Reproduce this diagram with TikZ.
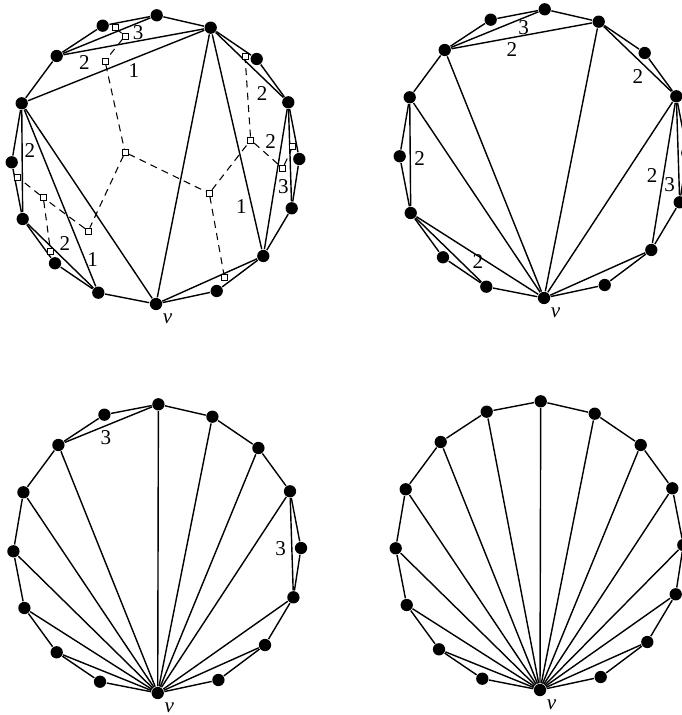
\documentclass[tikz,border=0pt]{standalone}
\usepackage{fontspec}
\setmainfont{Liberation Serif}
\begin{document}
\begin{tikzpicture}[x=0.02cm, y=-0.02cm, line width=0.8pt,
  dot/.style={circle, fill, inner sep=0pt, minimum size=7pt},
  box/.style={rectangle, draw, fill=white, line width=0.5pt, inner sep=0pt, minimum size=3.4pt},
  tree/.style={dash pattern=on 4pt off 3pt, line width=0.6pt},
  lab/.style={inner sep=1pt, font=\fontsize{12}{14}\selectfont}]
  \useasboundingbox (0,0) rectangle (681,715);

  % the four 16-gons
  \foreach \p/\dx/\dy in {a/0/0, b/388/-6, c/1.7/389, d/384/386}
    \foreach \i/\x/\y in {1/156/304, 2/216.7/291, 3/263.3/256, 4/291.7/208.3,
        5/299.3/159, 6/288.3/102.3, 7/256.7/59, 8/210.7/27.7, 9/156.7/15.3,
        10/102.7/25.7, 11/56.7/56, 12/21.7/103.3, 13/11.7/162.3, 14/22.7/219,
        15/55/263.3, 16/98.3/292.7}
      \node[dot] (\p\i) at (\x+\dx, \y+\dy) {};
  \foreach \p in {a,b,c,d}{
    \foreach \i in {1,...,16}{
      \pgfmathtruncatemacro{\j}{mod(\i,16)+1}
      \draw (\p\i) -- (\p\j);
    }
    \node[lab] (v\p) at ([shift={(11.5,14.5)}]\p1) {\textit{v}};
  }

  % top left
  \draw (a11) -- node[lab, below, pos=0.86] (la1) {3} (a9);
  \draw (a11) -- node[lab, below=1.5pt, pos=0.15] (la2) {2} (a8);
  \draw (a12) -- node[lab, below=1.5pt, pos=0.6] (la3) {1} (a8);
  \draw (a12) -- node[lab, right, pos=0.4] (la4) {2} (a14);
  \draw (a12) -- node[lab, right, pos=0.85] (la5) {1} (a16);
  \draw (a14) -- node[lab, above right, pos=0.45] (la6) {2} (a16);
  \draw (a12) -- (a1);
  \draw (a8) -- (a1);
  \draw (a8) -- node[lab, left=1.5pt, pos=0.8] (la7) {1} (a3);
  \draw (a1) -- (a3);
  \draw (a8) -- node[lab, below left, pos=0.8] (la8) {2} (a6);
  \draw (a6) -- node[lab, left=2pt, pos=0.23] (la9) {2} (a3);
  \draw (a6) -- node[lab, left, pos=0.84] (la10) {3} (a4);

  % dual tree
  \foreach \n/\x/\y in {1/115/27.7, 2/125/36, 3/105/61, 4/125/152.3, 5/88.3/231,
      6/43.3/197.7, 7/17.3/177, 8/50.5/251, 9/209.3/193.3, 10/224.5/277.7,
      11/250.7/140, 12/245/56, 13/282.7/168.3, 14/292.7/146.7}
    \node[box] (t\n) at (\x,\y) {};
  \foreach \m/\n in {1/2, 2/3, 3/4, 4/5, 5/6, 6/7, 6/8, 4/9, 9/10, 9/11,
      11/12, 11/13, 13/14}
    \draw[tree] (t\m) -- (t\n);

  % top right
  \draw (b11) -- node[lab, below, pos=0.83] (lb1) {3} (b9);
  \draw (b11) -- node[lab, below=1.5pt, pos=0.43] (lb2) {2} (b8);
  \draw (b11) -- (b1);
  \draw (b12) -- node[lab, right=1pt, pos=0.53] (lb3) {2} (b14);
  \draw (b12) -- (b1);
  \draw (b14) -- node[lab, above right, pos=0.83] (lb4) {2} (b16);
  \draw (b14) -- (b1);
  \draw (b8) -- (b1);
  \draw (b8) -- node[lab, below left, pos=0.62] (lb5) {2} (b6);
  \draw (b6) -- (b1);
  \draw (b6) -- node[lab, left=2pt, pos=0.52] (lb6) {2} (b3);
  \draw (b6) -- node[lab, left=1pt, pos=0.88] (lb7) {3} (b4);
  \draw (b3) -- (b1);

  % bottom left
  \draw (c11) -- node[lab, below=1.5pt, pos=0.47] (lc1) {3} (c9);
  \draw (c6) -- node[lab, left=2pt, pos=0.55] (lc2) {3} (c4);
  \foreach \i in {3,4,6,7,8,9,11,12,13,14,15}
    \draw (c1) -- (c\i);

  % bottom right
  \foreach \i in {3,...,15}
    \draw (d1) -- (d\i);
\end{tikzpicture}
\end{document}
